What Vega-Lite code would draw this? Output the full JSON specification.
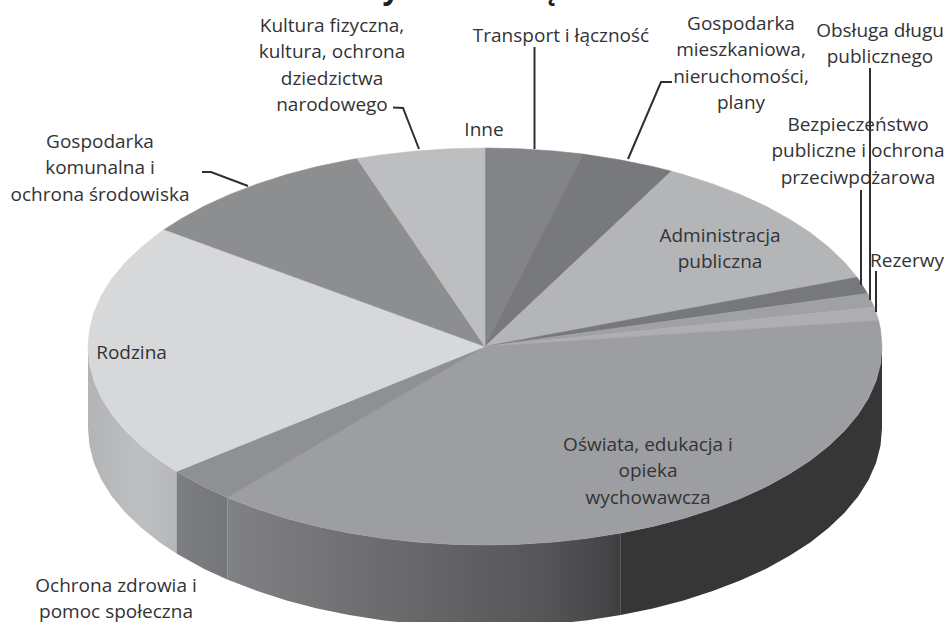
{"$schema":"https://vega.github.io/schema/vega-lite/v6.json","width":945,"height":622,"padding":0,"autosize":{"type":"none"},"background":"white","config":{"view":{"stroke":null}},
"datasets":{
"tops":[
{"s":"Transport","i":0,"x":485,"y":346.5},{"s":"Transport","i":1,"x":485,"y":148},{"s":"Transport","i":2,"x":519.6,"y":148.8},{"s":"Transport","i":3,"x":553.9,"y":151},{"s":"Transport","i":4,"x":583.1,"y":154.1},{"s":"Transport","i":5,"x":485,"y":346.5},
{"s":"Mieszkaniowa","i":0,"x":485,"y":346.5},{"s":"Mieszkaniowa","i":1,"x":583.1,"y":154.1},{"s":"Mieszkaniowa","i":2,"x":587.7,"y":154.8},{"s":"Mieszkaniowa","i":3,"x":620.8,"y":160},{"s":"Mieszkaniowa","i":4,"x":652.8,"y":166.6},{"s":"Mieszkaniowa","i":5,"x":671.4,"y":171.2},{"s":"Mieszkaniowa","i":6,"x":485,"y":346.5},
{"s":"Administracja","i":0,"x":485,"y":346.5},{"s":"Administracja","i":1,"x":671.4,"y":171.2},{"s":"Administracja","i":2,"x":683.5,"y":174.6},{"s":"Administracja","i":3,"x":712.7,"y":183.9},{"s":"Administracja","i":4,"x":740.2,"y":194.4},{"s":"Administracja","i":5,"x":765.7,"y":206.1},{"s":"Administracja","i":6,"x":789.1,"y":218.9},{"s":"Administracja","i":7,"x":810.2,"y":232.6},{"s":"Administracja","i":8,"x":828.8,"y":247.3},{"s":"Administracja","i":9,"x":844.8,"y":262.6},{"s":"Administracja","i":10,"x":857.1,"y":277.3},{"s":"Administracja","i":11,"x":485,"y":346.5},
{"s":"Bezpieczenstwo","i":0,"x":485,"y":346.5},{"s":"Bezpieczenstwo","i":1,"x":857.1,"y":277.3},{"s":"Bezpieczenstwo","i":2,"x":858.1,"y":278.6},{"s":"Bezpieczenstwo","i":3,"x":867.5,"y":293.5},{"s":"Bezpieczenstwo","i":4,"x":485,"y":346.5},
{"s":"Obsluga","i":0,"x":485,"y":346.5},{"s":"Obsluga","i":1,"x":867.5,"y":293.5},{"s":"Obsluga","i":2,"x":868.5,"y":295.1},{"s":"Obsluga","i":3,"x":874.2,"y":307.3},{"s":"Obsluga","i":4,"x":485,"y":346.5},
{"s":"Rezerwy","i":0,"x":485,"y":346.5},{"s":"Rezerwy","i":1,"x":874.2,"y":307.3},{"s":"Rezerwy","i":2,"x":876,"y":312},{"s":"Rezerwy","i":3,"x":878.6,"y":320.6},{"s":"Rezerwy","i":4,"x":485,"y":346.5},
{"s":"Oswiata","i":0,"x":485,"y":346.5},{"s":"Oswiata","i":1,"x":878.6,"y":320.6},{"s":"Oswiata","i":2,"x":880.5,"y":329.2},{"s":"Oswiata","i":3,"x":882,"y":346.5},{"s":"Oswiata","i":4,"x":880.5,"y":363.8},{"s":"Oswiata","i":5,"x":876,"y":381},{"s":"Oswiata","i":6,"x":868.5,"y":397.9},{"s":"Oswiata","i":7,"x":858.1,"y":414.4},{"s":"Oswiata","i":8,"x":844.8,"y":430.4},{"s":"Oswiata","i":9,"x":828.8,"y":445.8},{"s":"Oswiata","i":10,"x":810.2,"y":460.4},{"s":"Oswiata","i":11,"x":789.1,"y":474.1},{"s":"Oswiata","i":12,"x":765.7,"y":486.9},{"s":"Oswiata","i":13,"x":740.2,"y":498.6},{"s":"Oswiata","i":14,"x":712.7,"y":509.1},{"s":"Oswiata","i":15,"x":683.5,"y":518.4},{"s":"Oswiata","i":16,"x":652.8,"y":526.4},{"s":"Oswiata","i":17,"x":620.8,"y":533},{"s":"Oswiata","i":18,"x":587.7,"y":538.2},{"s":"Oswiata","i":19,"x":553.9,"y":542},{"s":"Oswiata","i":20,"x":519.6,"y":544.2},{"s":"Oswiata","i":21,"x":485,"y":545},{"s":"Oswiata","i":22,"x":450.4,"y":544.2},{"s":"Oswiata","i":23,"x":416.1,"y":542},{"s":"Oswiata","i":24,"x":382.3,"y":538.2},{"s":"Oswiata","i":25,"x":349.2,"y":533},{"s":"Oswiata","i":26,"x":317.2,"y":526.4},{"s":"Oswiata","i":27,"x":286.5,"y":518.4},{"s":"Oswiata","i":28,"x":257.3,"y":509.1},{"s":"Oswiata","i":29,"x":229.8,"y":498.6},{"s":"Oswiata","i":30,"x":227.2,"y":497.4},{"s":"Oswiata","i":31,"x":485,"y":346.5},
{"s":"Ochrona","i":0,"x":485,"y":346.5},{"s":"Ochrona","i":1,"x":227.2,"y":497.4},{"s":"Ochrona","i":2,"x":204.3,"y":486.9},{"s":"Ochrona","i":3,"x":180.9,"y":474.1},{"s":"Ochrona","i":4,"x":176.5,"y":471.4},{"s":"Ochrona","i":5,"x":485,"y":346.5},
{"s":"Rodzina","i":0,"x":485,"y":346.5},{"s":"Rodzina","i":1,"x":176.5,"y":471.4},{"s":"Rodzina","i":2,"x":159.8,"y":460.4},{"s":"Rodzina","i":3,"x":141.2,"y":445.8},{"s":"Rodzina","i":4,"x":125.2,"y":430.4},{"s":"Rodzina","i":5,"x":111.9,"y":414.4},{"s":"Rodzina","i":6,"x":101.5,"y":397.9},{"s":"Rodzina","i":7,"x":94,"y":381},{"s":"Rodzina","i":8,"x":89.5,"y":363.8},{"s":"Rodzina","i":9,"x":88,"y":346.5},{"s":"Rodzina","i":10,"x":89.5,"y":329.2},{"s":"Rodzina","i":11,"x":94,"y":312},{"s":"Rodzina","i":12,"x":101.5,"y":295.1},{"s":"Rodzina","i":13,"x":111.9,"y":278.6},{"s":"Rodzina","i":14,"x":125.2,"y":262.6},{"s":"Rodzina","i":15,"x":141.2,"y":247.3},{"s":"Rodzina","i":16,"x":159.8,"y":232.6},{"s":"Rodzina","i":17,"x":164.2,"y":229.5},{"s":"Rodzina","i":18,"x":485,"y":346.5},
{"s":"Komunalna","i":0,"x":485,"y":346.5},{"s":"Komunalna","i":1,"x":164.2,"y":229.5},{"s":"Komunalna","i":2,"x":180.9,"y":218.9},{"s":"Komunalna","i":3,"x":204.3,"y":206.1},{"s":"Komunalna","i":4,"x":229.8,"y":194.4},{"s":"Komunalna","i":5,"x":257.3,"y":183.9},{"s":"Komunalna","i":6,"x":286.5,"y":174.6},{"s":"Komunalna","i":7,"x":317.2,"y":166.6},{"s":"Komunalna","i":8,"x":349.2,"y":160},{"s":"Komunalna","i":9,"x":357,"y":158.6},{"s":"Komunalna","i":10,"x":485,"y":346.5},
{"s":"Kultura","i":0,"x":485,"y":346.5},{"s":"Kultura","i":1,"x":357,"y":158.6},{"s":"Kultura","i":2,"x":382.3,"y":154.8},{"s":"Kultura","i":3,"x":416.1,"y":151},{"s":"Kultura","i":4,"x":450.4,"y":148.8},{"s":"Kultura","i":5,"x":485,"y":148},{"s":"Kultura","i":6,"x":485,"y":346.5}
],
"sides":[
{"s":"Rodzina","x":88,"y":346.5,"y2":428.5},{"s":"Rodzina","x":89.5,"y":363.8,"y2":445.8},{"s":"Rodzina","x":94,"y":381,"y2":463},{"s":"Rodzina","x":101.5,"y":397.9,"y2":479.9},{"s":"Rodzina","x":111.9,"y":414.4,"y2":496.4},{"s":"Rodzina","x":125.2,"y":430.4,"y2":512.4},{"s":"Rodzina","x":141.2,"y":445.8,"y2":527.8},{"s":"Rodzina","x":159.8,"y":460.4,"y2":542.4},{"s":"Rodzina","x":176.5,"y":471.4,"y2":553.4},
{"s":"Ochrona","x":176.5,"y":471.4,"y2":553.4},{"s":"Ochrona","x":180.9,"y":474.1,"y2":556.1},{"s":"Ochrona","x":204.3,"y":486.9,"y2":568.9},{"s":"Ochrona","x":227.2,"y":497.4,"y2":579.4},
{"s":"OswiataA","x":227.2,"y":497.4,"y2":579.4},{"s":"OswiataA","x":229.8,"y":498.6,"y2":580.6},{"s":"OswiataA","x":257.3,"y":509.1,"y2":591.1},{"s":"OswiataA","x":286.5,"y":518.4,"y2":600.4},{"s":"OswiataA","x":317.2,"y":526.4,"y2":608.4},{"s":"OswiataA","x":349.2,"y":533,"y2":615},{"s":"OswiataA","x":382.3,"y":538.2,"y2":620.2},{"s":"OswiataA","x":416.1,"y":542,"y2":624},{"s":"OswiataA","x":450.4,"y":544.2,"y2":626.2},{"s":"OswiataA","x":485,"y":545,"y2":627},{"s":"OswiataA","x":519.6,"y":544.2,"y2":626.2},{"s":"OswiataA","x":553.9,"y":542,"y2":624},{"s":"OswiataA","x":587.7,"y":538.2,"y2":620.2},{"s":"OswiataA","x":620.8,"y":533,"y2":615},
{"s":"OswiataB","x":620.8,"y":533,"y2":615},{"s":"OswiataB","x":652.8,"y":526.4,"y2":608.4},{"s":"OswiataB","x":683.5,"y":518.4,"y2":600.4},{"s":"OswiataB","x":712.7,"y":509.1,"y2":591.1},{"s":"OswiataB","x":740.2,"y":498.6,"y2":580.6},{"s":"OswiataB","x":765.7,"y":486.9,"y2":568.9},{"s":"OswiataB","x":789.1,"y":474.1,"y2":556.1},{"s":"OswiataB","x":810.2,"y":460.4,"y2":542.4},{"s":"OswiataB","x":828.8,"y":445.8,"y2":527.8},{"s":"OswiataB","x":844.8,"y":430.4,"y2":512.4},{"s":"OswiataB","x":858.1,"y":414.4,"y2":496.4},{"s":"OswiataB","x":868.5,"y":397.9,"y2":479.9},{"s":"OswiataB","x":876,"y":381,"y2":463},{"s":"OswiataB","x":880.5,"y":363.8,"y2":445.8},{"s":"OswiataB","x":882,"y":346.5,"y2":428.5}
],
"leaders":[
{"l":"Kultura","i":0,"x":393,"y":107.5},{"l":"Kultura","i":1,"x":403,"y":108},{"l":"Kultura","i":2,"x":419,"y":149},
{"l":"Transport","i":0,"x":534.5,"y":47},{"l":"Transport","i":1,"x":534.5,"y":149},
{"l":"Mieszkaniowa","i":0,"x":672,"y":82},{"l":"Mieszkaniowa","i":1,"x":661,"y":82},{"l":"Mieszkaniowa","i":2,"x":628,"y":159},
{"l":"Komunalna","i":0,"x":202,"y":172},{"l":"Komunalna","i":1,"x":211,"y":172},{"l":"Komunalna","i":2,"x":248,"y":186},
{"l":"Bezpieczenstwo","i":0,"x":861,"y":190},{"l":"Bezpieczenstwo","i":1,"x":861,"y":285},
{"l":"Obsluga","i":0,"x":870,"y":68},{"l":"Obsluga","i":1,"x":870,"y":300},
{"l":"Rezerwy","i":0,"x":876,"y":271},{"l":"Rezerwy","i":1,"x":876,"y":312}
],
"labels":[
{"t":"Kultura fizyczna,\nkultura, ochrona\ndziedzictwa\nnarodowego","x":332,"y":31},
{"t":"Transport i łączność","x":561,"y":41},
{"t":"Inne","x":484,"y":135},
{"t":"Gospodarka\nmieszkaniowa,\nnieruchomości,\nplany","x":741,"y":29},
{"t":"Obsługa długu\npublicznego","x":880,"y":36},
{"t":"Bezpieczeństwo\npubliczne i ochrona\nprzeciwpożarowa","x":858,"y":130},
{"t":"Rezerwy","x":907,"y":266},
{"t":"Administracja\npubliczna","x":720,"y":241},
{"t":"Oświata, edukacja i\nopieka\nwychowawcza","x":648,"y":450},
{"t":"Rodzina","x":131.5,"y":358},
{"t":"Ochrona zdrowia i\npomoc społeczna","x":116,"y":591},
{"t":"Gospodarka\nkomunalna i\nochrona środowiska","x":100,"y":147}
],
"titlebits":[{"t":"y","x":391,"y":-10},{"t":"ę","x":548,"y":-10}]},
"layer":[
{"data":{"name":"sides"},"transform":[{"filter":"datum.s==='Rodzina'"}],"mark":{"type":"area","fill":{"x1":0,"y1":0,"x2":1,"y2":0,"gradient":"linear","stops":[{"offset":0,"color":"#b3b4b6"},{"offset":0.6,"color":"#bebfc1"},{"offset":1,"color":"#b6b7b9"}]}},"encoding":{"x":{"field":"x","type":"quantitative","scale":{"domain":[0,945],"nice":false,"zero":false},"axis":null},"y":{"field":"y","type":"quantitative","scale":{"domain":[622,0],"nice":false,"zero":false},"axis":null},"y2":{"field":"y2"}}},
{"data":{"name":"sides"},"transform":[{"filter":"datum.s==='Ochrona'"}],"mark":{"type":"area","fill":{"x1":0,"y1":0,"x2":1,"y2":0,"gradient":"linear","stops":[{"offset":0,"color":"#7d7e81"},{"offset":1,"color":"#757679"}]}},"encoding":{"x":{"field":"x","type":"quantitative","axis":null},"y":{"field":"y","type":"quantitative","axis":null},"y2":{"field":"y2"}}},
{"data":{"name":"sides"},"transform":[{"filter":"datum.s==='OswiataA'"}],"mark":{"type":"area","fill":{"x1":0,"y1":0,"x2":1,"y2":0,"gradient":"linear","stops":[{"offset":0,"color":"#808184"},{"offset":0.45,"color":"#69696b"},{"offset":0.8,"color":"#565658"},{"offset":0.97,"color":"#444446"},{"offset":1,"color":"#3e3e40"}]}},"encoding":{"x":{"field":"x","type":"quantitative","axis":null},"y":{"field":"y","type":"quantitative","axis":null},"y2":{"field":"y2"}}},
{"data":{"name":"sides"},"transform":[{"filter":"datum.s==='OswiataB'"}],"mark":{"type":"area","color":"#363637"},"encoding":{"x":{"field":"x","type":"quantitative","axis":null},"y":{"field":"y","type":"quantitative","axis":null},"y2":{"field":"y2"}}},
{"data":{"name":"tops"},"mark":{"type":"line","strokeWidth":0.6},"encoding":{"x":{"field":"x","type":"quantitative","axis":null},"y":{"field":"y","type":"quantitative","axis":null},"detail":{"field":"s"},"order":{"field":"i"},
"fill":{"field":"s","type":"nominal","legend":null,"scale":{"domain":["Transport","Mieszkaniowa","Administracja","Bezpieczenstwo","Obsluga","Rezerwy","Oswiata","Ochrona","Rodzina","Komunalna","Kultura"],"range":["#838487","#78797c","#b4b5b7","#77787b","#a0a1a4","#aeafb1","#9d9ea1","#8f9093","#d7d8da","#8d8e90","#bdbec0"]}},
"stroke":{"field":"s","type":"nominal","legend":null,"scale":{"domain":["Transport","Mieszkaniowa","Administracja","Bezpieczenstwo","Obsluga","Rezerwy","Oswiata","Ochrona","Rodzina","Komunalna","Kultura"],"range":["#838487","#78797c","#b4b5b7","#77787b","#a0a1a4","#aeafb1","#9d9ea1","#8f9093","#d7d8da","#8d8e90","#bdbec0"]}}}},
{"data":{"name":"leaders"},"mark":{"type":"line","stroke":"#2f2f31","strokeWidth":2},"encoding":{"x":{"field":"x","type":"quantitative","axis":null},"y":{"field":"y","type":"quantitative","axis":null},"detail":{"field":"l"},"order":{"field":"i"}}},
{"data":{"name":"labels"},"mark":{"type":"text","lineBreak":"\n","lineHeight":26.3,"font":"Open Sans","fontSize":19,"align":"center","color":"#333335","dy":-5},"encoding":{"x":{"field":"x","type":"quantitative","axis":null},"y":{"field":"y","type":"quantitative","axis":null},"text":{"field":"t"}}},
{"data":{"name":"titlebits"},"mark":{"type":"text","font":"Open Sans","fontWeight":"bold","fontSize":30,"align":"center","color":"#222224"},"encoding":{"x":{"field":"x","type":"quantitative","axis":null},"y":{"field":"y","type":"quantitative","axis":null},"text":{"field":"t"}}}
]}
